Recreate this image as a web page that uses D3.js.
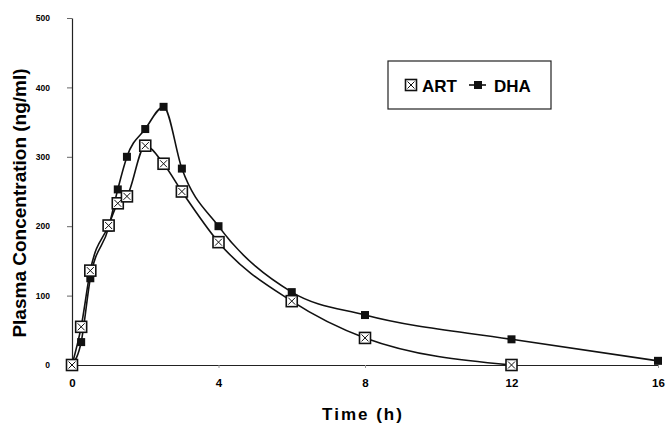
<!DOCTYPE html>
<html>
<head>
<meta charset="utf-8">
<script src="https://cdn.jsdelivr.net/npm/d3@7"></script>
<style>
  body { margin: 0; background: #fff; }
  svg { display: block; font-family: "Liberation Sans", Arial, sans-serif; }
</style>
</head>
<body>
<svg class="mainSvg"></svg>
<script>
(function () {
  // ===========================================================================
  //     data area
  // ===========================================================================
  const artTime = [0, 0.25, 0.5, 1, 1.25, 1.5, 2, 2.5, 3, 4, 6, 8, 12];
  const artConc = [0, 55, 136, 201, 233, 243, 316, 290, 250, 177, 92, 39, 0];
  const dhaTime = [0, 0.25, 0.5, 1, 1.25, 1.5, 2, 2.5, 3, 4, 6, 8, 12, 16];
  const dhaConc = [0, 33, 125, 198, 253, 300, 340, 372, 283, 200, 105, 72, 37, 6];
  const xTicks = [0, 4, 8, 12, 16];
  const yTicks = [0, 100, 200, 300, 400, 500];

  const width = 668;
  const height = 426;
  const margin = { left: 72, right: 10, top: 18, bottom: 61 };

  const svg = d3.select('.mainSvg')
    .attr('width', width)
    .attr('height', height);

  const x = d3.scaleLinear().domain([0, 16]).range([margin.left, width - margin.right]);
  const y = d3.scaleLinear().domain([0, 500]).range([height - margin.bottom, margin.top]);

  // ===========================================================================
  //      axes
  // ===========================================================================
  const xAxis = svg.append('g')
    .attr('transform', `translate(0,${y(0)})`)
    .call(d3.axisBottom(x).tickValues(xTicks).tickSize(3).tickPadding(11).tickSizeOuter(0));
  xAxis.select('.domain').attr('stroke', '#222').attr('stroke-width', 1.2);
  xAxis.selectAll('.tick line').attr('stroke', '#999');
  xAxis.selectAll('.tick text')
    .attr('font-size', 11.5).attr('font-weight', 'bold').attr('fill', '#000')
    .style('font-family', '"Liberation Sans", Arial, sans-serif');

  const yAxis = svg.append('g')
    .attr('transform', `translate(${x(0)},0)`)
    .call(d3.axisLeft(y).tickValues(yTicks).tickSize(5).tickPadding(17).tickSizeOuter(0));
  yAxis.select('.domain').attr('stroke', '#222').attr('stroke-width', 1.2);
  yAxis.selectAll('.tick line').attr('stroke', '#666');
  yAxis.selectAll('.tick text')
    .attr('font-size', 8.5).attr('font-weight', 'bold').attr('fill', '#000')
    .style('font-family', '"Liberation Sans", Arial, sans-serif');

  svg.append('text')
    .attr('transform', 'translate(26,203) rotate(-90)')
    .attr('text-anchor', 'middle')
    .attr('font-size', 19)
    .attr('font-weight', 'bold')
    .text('Plasma Concentration (ng/ml)');

  svg.append('text')
    .attr('x', 363)
    .attr('y', 420)
    .attr('text-anchor', 'middle')
    .attr('font-size', 17)
    .attr('font-weight', 'bold')
    .attr('letter-spacing', 2)
    .text('Time (h)');

  // ===========================================================================
  //      lines + markers
  // ===========================================================================
  const line = d3.line()
    .x(d => x(d[0]))
    .y(d => y(d[1]))
    .curve(d3.curveMonotoneX);

  const art = artTime.map((t, i) => [t, artConc[i]]);
  const dha = dhaTime.map((t, i) => [t, dhaConc[i]]);

  [art, dha].forEach(function (pts) {
    svg.append('path')
      .attr('d', line(pts))
      .attr('fill', 'none')
      .attr('stroke', '#111')
      .attr('stroke-width', 1.6);
  });

  function crossedSquare(g, cx, cy, s) {
    const h = s / 2;
    g.append('rect')
      .attr('x', cx - h).attr('y', cy - h)
      .attr('width', s).attr('height', s)
      .attr('fill', '#fff').attr('stroke', '#111').attr('stroke-width', 1.6);
    g.append('path')
      .attr('d', `M${cx - h + 2} ${cy - h + 2}L${cx + h - 2} ${cy + h - 2}M${cx + h - 2} ${cy - h + 2}L${cx - h + 2} ${cy + h - 2}`)
      .attr('stroke', '#111').attr('stroke-width', 1);
  }

  const dhaG = svg.append('g');
  dha.forEach(function (d) {
    dhaG.append('rect')
      .attr('x', x(d[0]) - 4).attr('y', y(d[1]) - 4)
      .attr('width', 8).attr('height', 8)
      .attr('fill', '#111');
  });

  const artG = svg.append('g');
  art.forEach(function (d) {
    crossedSquare(artG, x(d[0]), y(d[1]), 11);
  });

  // ===========================================================================
  //      legend
  // ===========================================================================
  const lg = svg.append('g');
  lg.append('rect')
    .attr('x', 388).attr('y', 61)
    .attr('width', 163).attr('height', 48)
    .attr('fill', '#fff').attr('stroke', '#222').attr('stroke-width', 1.2);
  crossedSquare(lg, 411, 85, 11);
  lg.append('text')
    .attr('x', 422).attr('y', 92)
    .attr('font-size', 17).attr('font-weight', 'bold')
    .text('ART');
  lg.append('line')
    .attr('x1', 469).attr('x2', 486).attr('y1', 85).attr('y2', 85)
    .attr('stroke', '#111').attr('stroke-width', 1.6);
  lg.append('rect')
    .attr('x', 474).attr('y', 81).attr('width', 8).attr('height', 8)
    .attr('fill', '#111');
  lg.append('text')
    .attr('x', 494).attr('y', 92)
    .attr('font-size', 17).attr('font-weight', 'bold')
    .text('DHA');
})();
</script>
</body>
</html>
